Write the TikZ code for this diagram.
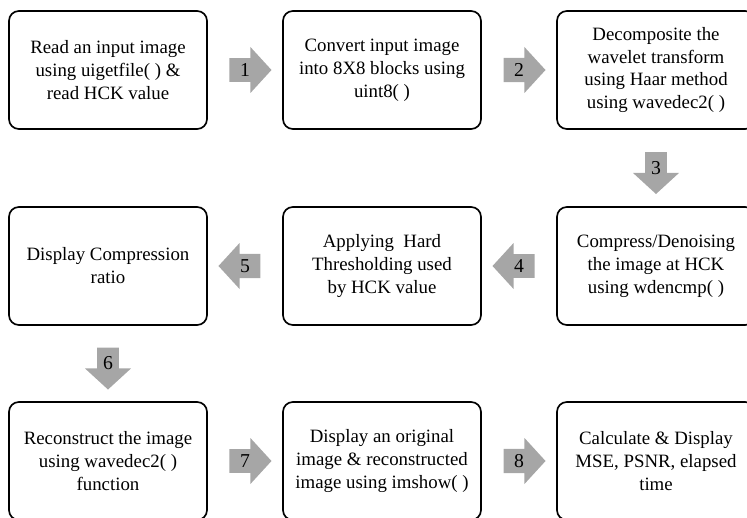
\documentclass[tikz,border=0pt]{standalone}
\usepackage{fontspec}
\setmainfont{Liberation Serif}
\usetikzlibrary{shapes.arrows,calc}

\begin{document}
\begin{tikzpicture}[
        stepbox/.style={draw, line width=1.2pt, rounded corners=7pt,
            minimum width=4.95cm, minimum height=2.95cm, align=center,
            font=\fontsize{13.4}{16.3}\selectfont},
        blockarrow/.style={single arrow, fill=black!35, draw=none,
            minimum height=1.05cm, minimum width=1.15cm,
            single arrow head extend=0.22cm, single arrow tip angle=95,
            inner sep=2pt, font=\fontsize{14}{16}\selectfont}
    ]
        \useasboundingbox (0,0) rectangle (18.675,12.925);

        % first row
        \node[stepbox] (read) at (2.7,11.175) {Read an input image\\using uigetfile( ) \&\\read HCK value};
        \node[stepbox] (conv) at (9.55,11.175) {Convert input image\\into 8X8 blocks using\\uint8( )};
        \node[stepbox] (dec) at (16.4,11.175) {Decomposite the\\wavelet transform\\using Haar method\\using wavedec2( )};

        % second row
        \node[stepbox] (comp) at (16.4,6.275) {Compress/Denoising\\the image at HCK\\using wdencmp( )};
        \node[stepbox] (thr) at (9.55,6.275) {Applying\ \ Hard\\Thresholding used\\by HCK value};
        \node[stepbox] (ratio) at (2.7,6.275) {Display Compression\\ratio};

        % third row
        \node[stepbox] (rec) at (2.7,1.4) {Reconstruct the image\\using wavedec2( )\\function};
        \node[stepbox] (show) at (9.55,1.4) {Display an original\\image \& reconstructed\\image using imshow( )};
        \node[stepbox] (calc) at (16.4,1.4) {Calculate \& Display\\MSE, PSNR, elapsed\\time};

        % numbered arrows
        \node[blockarrow] (a1) at ($(read.east)!0.5!(conv.west)$) {1};
        \node[blockarrow] (a2) at ($(conv.east)!0.5!(dec.west)$) {2};
        \node[blockarrow, shape border rotate=270] (a3) at ($(dec.south)!0.5!(comp.north)$) {3};
        \node[blockarrow, shape border rotate=180] (a4) at ($(comp.west)!0.5!(thr.east)$) {4};
        \node[blockarrow, shape border rotate=180] (a5) at ($(thr.west)!0.5!(ratio.east)$) {5};
        \node[blockarrow, shape border rotate=270] (a6) at ($(ratio.south)!0.5!(rec.north)$) {6};
        \node[blockarrow] (a7) at ($(rec.east)!0.5!(show.west)$) {7};
        \node[blockarrow] (a8) at ($(show.east)!0.5!(calc.west)$) {8};

    \end{tikzpicture}
\end{document}
